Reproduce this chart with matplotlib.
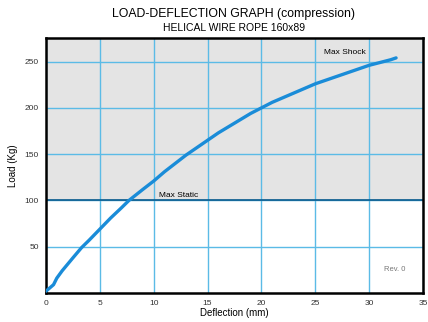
import matplotlib.pyplot as plt

plt.rcParams['font.family'] = ['Liberation Sans', 'DejaVu Sans']

# curve
deflection = [0, 0.3, 0.7, 1.0, 1.5, 2.0, 2.5, 3.3, 4.0, 5.0, 6.0, 7.0, 7.7, 9.0, 10.0,
              11.0, 12.0, 13.0, 14.0, 15.0, 16.0, 17.0, 18.0, 19.0, 20.0, 21.0, 22.0,
              23.0, 24.0, 25.0, 26.0, 27.0, 28.0, 29.0, 30.0, 31.0, 32.0, 32.5]
load = [2, 5, 9, 16, 24, 31, 38, 49, 57, 69, 81, 92, 100, 112, 121,
        131, 140, 149, 157, 165, 173, 180, 187, 194, 200, 206, 211,
        216, 221, 226, 230, 234, 238, 242, 246, 249, 252, 254]

max_static = 100
max_shock = 250
xticks = [0, 5, 10, 15, 20, 25, 30, 35]
yticks = [50, 100, 150, 200, 250]

fig = plt.figure(figsize=(4.28, 3.22), dpi=100)
ax = fig.add_axes([46 / 428, 1 - 293 / 322, 377 / 428, 255 / 322])

ymax = 275.5
ax.set_xlim(0, 35)
ax.set_ylim(0, ymax)
ax.axhspan(max_static, ymax, color='#e4e4e4', zorder=0)

ax.set_xticks(xticks)
ax.set_yticks(yticks)
ax.grid(True, color='#5bbbe6', linewidth=1.0, zorder=1)
ax.axhline(max_static, color='#0a5a8c', linewidth=1.2, zorder=2)

ax.plot(deflection, load, color='#1a8cd8', linewidth=2.4, solid_capstyle='round',
        solid_joinstyle='round', zorder=3)

ax.text(10.5, max_static + 2, 'Max Static', fontsize=6, va='bottom', zorder=4)
ax.text(25.8, 256, 'Max Shock', fontsize=6, va='bottom', zorder=4)
ax.text(33.4, 25, 'Rev. 0', fontsize=5.5, color='#777777', ha='right', va='center', zorder=4)

for s in ax.spines.values():
    s.set_linewidth(1.8)
ax.tick_params(length=0, labelsize=6, pad=5, colors='#333333')
ax.set_xlabel('Deflection (mm)', fontsize=7, labelpad=1)
ax.set_ylabel('Load (Kg)', fontsize=7, labelpad=5)

fig.text(234 / 428, 1 - 14 / 322, 'LOAD-DEFLECTION GRAPH (compression)', fontsize=8.8,
         ha='center', va='center')
fig.text(234 / 428, 1 - 28 / 322, 'HELICAL WIRE ROPE 160x89', fontsize=7.5,
         ha='center', va='center')

fig.savefig('out.png', dpi=100)
